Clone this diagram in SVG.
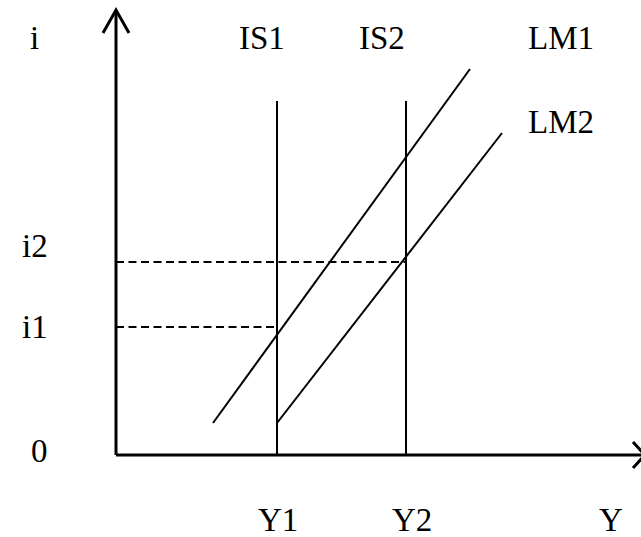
<svg xmlns="http://www.w3.org/2000/svg" width="641" height="537" viewBox="0 0 641 537">
<style>
text{font-family:'Liberation Serif','Times New Roman',serif;font-size:33px;fill:#000}
.axis{stroke:#000;stroke-width:3;fill:none}
.curve{stroke:#000;stroke-width:2;fill:none}
.dash{stroke:#000;stroke-width:2;fill:none;stroke-dasharray:8 4.5}
</style>
<rect width="641" height="537" fill="#fff"/>
<g id="axes">
<line class="axis" x1="116" y1="455" x2="116" y2="10"/>
<polyline class="axis" points="103,33 116,10 129,33"/>
<line class="axis" x1="116" y1="455" x2="644" y2="455"/>
<polyline class="axis" points="633,442 645,455 633,468"/>
</g>
<g id="connectors">
<line id="IS1" class="curve" x1="277" y1="101" x2="277" y2="455"/>
<line id="IS2" class="curve" x1="406" y1="101" x2="406" y2="455"/>
<line id="LM1" class="curve" x1="213" y1="423" x2="470" y2="69"/>
<line id="LM2" class="curve" x1="277" y1="423" x2="502" y2="133"/>
<line class="dash" x1="116" y1="262" x2="406" y2="262"/>
<line class="dash" x1="116" y1="327" x2="277" y2="327"/>
</g>
<g id="labels">
<text x="30" y="49">i</text>
<text x="239" y="49">IS1</text>
<text x="359" y="49">IS2</text>
<text x="528" y="49">LM1</text>
<text x="528" y="133">LM2</text>
<text x="22" y="257">i2</text>
<text x="22" y="338">i1</text>
<text x="31" y="462">0</text>
<text x="258" y="531">Y1</text>
<text x="392" y="531">Y2</text>
<text x="599" y="531">Y</text>
</g>
</svg>
